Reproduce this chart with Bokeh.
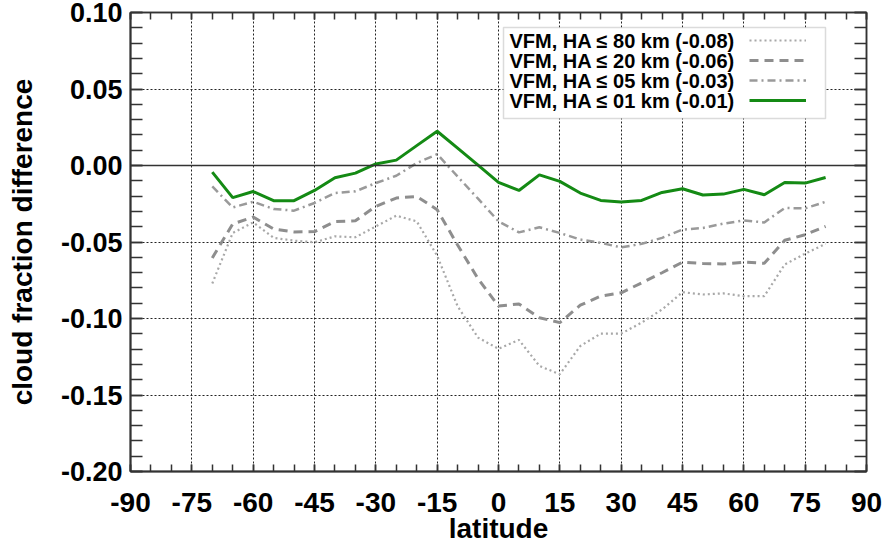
from bokeh.plotting import figure
from bokeh.models import (Legend, LegendItem, Span, BoxAnnotation, LinearAxis, Label,
                          SingleIntervalTicker, PrintfTickFormatter, CustomJSTickFormatter,
                          Range1d)
from bokeh.embed import file_html
from bokeh.resources import INLINE

# ---------------- data ----------------
lat = [-70, -65, -60, -55, -50, -45, -40, -35, -30, -25, -20, -15, -10, -5, 0,
       5, 10, 15, 20, 25, 30, 35, 40, 45, 50, 55, 60, 65, 70, 75, 80]

ha80 = [-0.0771, -0.0441, -0.0372, -0.0473, -0.0491, -0.0502, -0.0463, -0.0469,
        -0.0398, -0.0328, -0.0365, -0.0590, -0.0920, -0.1125, -0.1198,
        -0.1140, -0.1310, -0.1364, -0.1180, -0.1099, -0.1099, -0.1027, -0.0941,
        -0.0828, -0.0843, -0.0836, -0.0854, -0.0854, -0.0647, -0.0576, -0.0512]

ha20 = [-0.0604, -0.0382, -0.0337, -0.0415, -0.0434, -0.0432, -0.0367, -0.0361,
        -0.0267, -0.0213, -0.0202, -0.0289, -0.0520, -0.0740, -0.0919,
        -0.0905, -0.0995, -0.1027, -0.0913, -0.0854, -0.0832, -0.0767, -0.0701,
        -0.0632, -0.0641, -0.0643, -0.0632, -0.0639, -0.0489, -0.0452, -0.0398]

ha05 = [-0.0137, -0.0274, -0.0237, -0.0284, -0.0295, -0.0245, -0.0180, -0.0169,
        -0.0115, -0.0067, 0.0016, 0.0074, -0.0072, -0.0217, -0.0365,
        -0.0437, -0.0404, -0.0441, -0.0484, -0.0506, -0.0535, -0.0512, -0.0473,
        -0.0419, -0.0408, -0.0380, -0.0359, -0.0372, -0.0278, -0.0280, -0.0237]

ha01 = [-0.0043, -0.0210, -0.0170, -0.0230, -0.0230, -0.0163, -0.0080, -0.0050,
        0.0010, 0.0035, 0.0130, 0.0224, 0.0113, 0.0002, -0.0110,
        -0.0163, -0.0061, -0.0104, -0.0180, -0.0228, -0.0239, -0.0228, -0.0176,
        -0.0152, -0.0193, -0.0187, -0.0156, -0.0191, -0.0111, -0.0115, -0.0078]

labels = ["VFM, HA \u2264 80 km (-0.08)",
          "VFM, HA \u2264 20 km (-0.06)",
          "VFM, HA \u2264 05 km (-0.03)",
          "VFM, HA \u2264 01 km (-0.01)"]

x_title = "latitude"
y_title = "cloud fraction difference"

FONT = "Liberation Sans"

p = figure(width=885, height=545, output_backend="svg", toolbar_location=None,
           x_range=Range1d(-90, 90), y_range=Range1d(-0.20, 0.10),
           min_border_left=130, min_border_right=19, min_border_top=12,
           min_border_bottom=73, y_axis_label=y_title)
p.background_fill_color = "white"
p.border_fill_color = "white"
p.outline_line_color = "#333333"
p.outline_line_width = 1.5

xt = SingleIntervalTicker(interval=15, num_minor_ticks=3)
yt = SingleIntervalTicker(interval=0.05, num_minor_ticks=5)

xa = p.xaxis[0]
ya = p.yaxis[0]
xa.ticker = xt
ya.ticker = yt
xa.formatter = PrintfTickFormatter(format="%d")
ya.formatter = PrintfTickFormatter(format="%.2f")

for ax, tl in ((xa, 7), (ya, 12)):
    ax.major_tick_in = tl
    ax.major_tick_out = 0
    ax.minor_tick_in = tl
    ax.minor_tick_out = 0
    ax.major_tick_line_color = "#333333"
    ax.minor_tick_line_color = "#333333"
    ax.major_tick_line_width = 1.5
    ax.minor_tick_line_width = 1.5
    ax.axis_line_color = "#333333"
    ax.axis_line_width = 2
    ax.major_label_text_font = FONT
    ax.major_label_text_font_style = "bold"
    ax.major_label_text_color = "black"
    ax.axis_label_text_font = FONT
    ax.axis_label_text_font_style = "bold"
    ax.axis_label_text_font_size = "28px"
    ax.axis_label_text_color = "black"

xa.major_label_text_font_size = "28px"
xa.major_label_standoff = 21
ya.major_label_text_font_size = "27px"
ya.major_label_standoff = 8
ya.axis_label_standoff = 20

blank = CustomJSTickFormatter(code="return ''")
top = LinearAxis(ticker=xt, formatter=blank, major_label_standoff=0,
                 major_tick_in=7, major_tick_out=0, minor_tick_in=7, minor_tick_out=0,
                 major_tick_line_color="#333333", minor_tick_line_color="#333333",
                 major_tick_line_width=1.5, minor_tick_line_width=1.5,
                 axis_line_color="#333333", axis_line_width=1.5)
p.add_layout(top, "above")
right = LinearAxis(ticker=yt, formatter=blank, major_label_standoff=0,
                   major_tick_in=12, major_tick_out=0, minor_tick_in=12, minor_tick_out=0,
                   major_tick_line_color="#333333", minor_tick_line_color="#333333",
                   major_tick_line_width=1.5, minor_tick_line_width=1.5,
                   axis_line_color="#333333", axis_line_width=1.5)
p.add_layout(right, "right")

p.xgrid.grid_line_color = "#222222"
p.xgrid.grid_line_dash = "2 2"
p.xgrid.grid_line_width = 1
p.ygrid.grid_line_color = "#222222"
p.ygrid.grid_line_dash = "2 2"
p.ygrid.grid_line_width = 1

p.add_layout(Span(location=0, dimension="width", line_color="#333333", line_width=1.5))

r80 = p.line(lat, ha80, line_color="#a8a8a8", line_width=2.2, line_dash="2 3")
r20 = p.line(lat, ha20, line_color="#8e8e8e", line_width=3, line_dash="9 6")
r05 = p.line(lat, ha05, line_color="#9a9a9a", line_width=2.5, line_dash="8 4 2 4")
r01 = p.line(lat, ha01, line_color="#148a14", line_width=3)
rends = [r80, r20, r05, r01]

# x-axis title placed below the tick labels
p.add_layout(Label(x=498, y=528, x_units="canvas", y_units="canvas", text=x_title,
                   text_font=FONT, text_font_style="bold", text_font_size="28px",
                   text_color="black", text_baseline="middle", text_align="center"),
             "below")

# legend frame
box = BoxAnnotation(left=503, right=825, top=27, bottom=118,
                    left_units="canvas", right_units="canvas",
                    top_units="canvas", bottom_units="canvas",
                    fill_color="white", fill_alpha=1.0,
                    line_color="#888888", line_width=1.5)
p.add_layout(box)

# legend texts (left side of the box)
row_y = [40.7, 60.7, 80.7, 100.7]
for txt, yy in zip(labels, row_y):
    p.add_layout(Label(x=509, y=yy, x_units="canvas", y_units="canvas", text=txt,
                       text_font=FONT, text_font_style="bold", text_font_size="20px",
                       text_color="black", text_baseline="middle", text_align="left"))

# legend line samples (right side of the box)
legB = Legend(items=[LegendItem(label=" ", renderers=[r]) for r in rends],
              location=(619, 361), glyph_width=57, glyph_height=20, label_height=20,
              label_standoff=0, padding=0, spacing=0, margin=0,
              label_text_font_size="10px", label_width=2,
              border_line_alpha=0, background_fill_alpha=0)
p.add_layout(legB)

open("out.html", "w").write(file_html(p, INLINE))
